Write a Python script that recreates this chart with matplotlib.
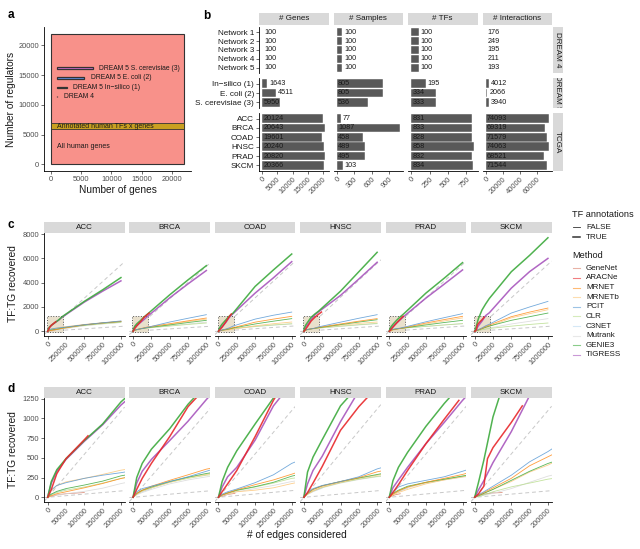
import matplotlib
matplotlib.use('Agg')
import matplotlib.pyplot as plt
from matplotlib.patches import Rectangle
import numpy as np

plt.rcParams['font.family'] = ['Liberation Sans', 'DejaVu Sans']

# ---------------- data ----------------
# panel a
ALL_GENES = 22000
TF_BAND = (5900, 7000)
DREAM_NAMES = ['DREAM 5 S. cerevisiae (3)', 'DREAM 5 E. coli (2)', 'DREAM 5 In\u2212silico (1)', 'DREAM 4']
DREAM_GENES = [5950, 4511, 1643, 100]
DREAM_TFS = [333, 334, 195, 100]
DREAM_FILL = ['#DA70D6', '#6495ED', '#444444', '#333333']

# panel b
ROW_NAMES = ['DREAM 4', 'DREAM 5', 'TCGA']
ROW_LABELS = [['Network 1', 'Network 2', 'Network 3', 'Network 4', 'Network 5'],
              ['In\u2212silico (1)', 'E. coli (2)', 'S. cerevisiae (3)'],
              ['ACC', 'BRCA', 'COAD', 'HNSC', 'PRAD', 'SKCM']]
COL_NAMES = ['# Genes', '# Samples', '# TFs', '# Interactions']
n_genes = [[100, 100, 100, 100, 100], [1643, 4511, 5950],
           [20124, 20643, 19601, 20240, 20820, 20366]]
n_samples = [[100, 100, 100, 100, 100], [805, 805, 536],
             [77, 1087, 458, 489, 495, 103]]
n_tfs = [[100, 100, 100, 100, 100], [195, 334, 333],
         [831, 833, 828, 858, 832, 834]]
n_inter = [[176, 249, 195, 211, 193], [4012, 2066, 3940],
           [74093, 69319, 71579, 74063, 68521, 71544]]
COL_TICKS = [[0, 5000, 10000, 15000, 20000], [0, 300, 600, 900],
             [0, 250, 500, 750], [0, 20000, 40000, 60000]]

# panels c / d
CANCERS = ['ACC', 'BRCA', 'COAD', 'HNSC', 'PRAD', 'SKCM']
X_EDGES = [0, 10000, 25000, 50000, 100000, 150000, 200000, 500000, 750000, 1000000]
RANDOM_TF = [5450, 5350, 5500, 5600, 5500, 5500]     # expected per 1M edges
RANDOM_ALL = [400, 390, 420, 410, 420, 400]

genie3_true = {
    'ACC':  [0, 200, 350, 490, 720, 930, 1210, 2460, 3410, 4420],
    'BRCA': [0, 250, 430, 610, 870, 1180, 1430, 3000, 4230, 5400],
    'COAD': [0, 200, 380, 590, 930, 1260, 1500, 3690, 5050, 6360],
    'HNSC': [0, 320, 510, 730, 1160, 1420, 1650, 3300, 4900, 6500],
    'PRAD': [0, 210, 380, 570, 900, 1190, 1450, 3140, 4370, 5650],
    'SKCM': [0, 180, 470, 1020, 1750, 2250, 2700, 4900, 6250, 7700]}
tigress_true = {
    'ACC':  [0, 180, 330, 480, 710, 920, 1170, 2400, 3300, 4150],
    'BRCA': [0, 180, 330, 480, 720, 965, 1240, 2750, 3900, 5000],
    'COAD': [0, 130, 260, 380, 725, 1160, 1450, 3140, 4400, 5730],
    'HNSC': [0, 170, 340, 520, 960, 1350, 1600, 2950, 4300, 5680],
    'PRAD': [0, 120, 220, 380, 680, 950, 1230, 2730, 3880, 5050],
    'SKCM': [0, 90, 210, 440, 833, 1290, 1520, 3550, 4910, 6000]}
aracne_x = {
    'ACC':  [0, 10000, 25000, 50000, 100000, 110000],
    'BRCA': [0, 10000, 25000, 50000, 100000, 150000, 220000],
    'COAD': [0, 10000, 25000, 50000, 100000, 150000, 175000],
    'HNSC': [0, 10000, 25000, 50000, 100000, 150000, 200000, 240000],
    'PRAD': [0, 10000, 25000, 50000, 100000, 150000, 190000],
    'SKCM': [0, 10000, 25000, 35000, 50000, 100000, 130000]}
aracne_y = {
    'ACC':  [0, 100, 300, 490, 730, 780],
    'BRCA': [0, 100, 240, 430, 770, 1150, 1500],
    'COAD': [0, 70, 170, 340, 770, 1230, 1420],
    'HNSC': [0, 60, 180, 390, 850, 1150, 1400, 1580],
    'PRAD': [0, 60, 160, 340, 680, 990, 1230],
    'SKCM': [0, 40, 140, 490, 630, 950, 1160]}
pcit = {
    'ACC':  [0, 95, 150, 185, 240, 280, 312, 540, 700, 850],
    'BRCA': [0, 70, 110, 140, 200, 260, 330, 760, 1070, 1365],
    'COAD': [0, 40, 70, 105, 185, 285, 430, 1000, 1320, 1580],
    'HNSC': [0, 60, 110, 150, 200, 260, 360, 750, 1070, 1365],
    'PRAD': [0, 70, 130, 170, 215, 260, 330, 780, 1120, 1450],
    'SKCM': [0, 30, 70, 140, 280, 450, 580, 1500, 2000, 2460]}
mrnet = {
    'ACC':  [0, 20, 45, 70, 120, 175, 238, 530, 680, 820],
    'BRCA': [0, 50, 90, 140, 215, 285, 357, 620, 860, 1090],
    'COAD': [0, 30, 55, 95, 160, 220, 293, 750, 1000, 1230],
    'HNSC': [0, 50, 100, 145, 200, 250, 323, 600, 830, 1040],
    'PRAD': [0, 40, 80, 130, 190, 240, 290, 680, 960, 1230],
    'SKCM': [0, 25, 60, 120, 240, 400, 514, 1200, 1580, 1910]}
mrnetb = {
    'ACC':  [0, 80, 150, 195, 240, 290, 344, 560, 700, 800],
    'BRCA': [0, 40, 80, 120, 190, 250, 290, 560, 800, 1000],
    'COAD': [0, 25, 45, 70, 90, 120, 174, 450, 620, 760],
    'HNSC': [0, 40, 80, 130, 190, 240, 280, 500, 650, 760],
    'PRAD': [0, 30, 60, 100, 170, 220, 259, 600, 850, 1100],
    'SKCM': [0, 20, 50, 100, 200, 320, 408, 1100, 1450, 1775]}
genie3_false = {
    'ACC':  [0, 40, 75, 110, 155, 205, 272, 520, 680, 800],
    'BRCA': [0, 50, 90, 130, 200, 255, 302, 520, 720, 900],
    'COAD': [0, 30, 55, 90, 135, 190, 268, 600, 830, 1040],
    'HNSC': [0, 50, 100, 145, 200, 245, 289, 550, 760, 950],
    'PRAD': [0, 50, 90, 140, 190, 230, 270, 520, 720, 900],
    'SKCM': [0, 20, 50, 100, 215, 330, 429, 900, 1200, 1500]}
clr = {
    'ACC':  [0, 30, 60, 90, 130, 180, 240, 480, 620, 740],
    'BRCA': [0, 40, 80, 120, 190, 240, 280, 430, 560, 680],
    'COAD': [0, 25, 50, 85, 130, 180, 240, 400, 520, 620],
    'HNSC': [0, 40, 80, 125, 185, 230, 265, 420, 540, 650],
    'PRAD': [0, 40, 80, 130, 185, 225, 265, 400, 520, 630],
    'SKCM': [0, 10, 30, 70, 132, 180, 230, 420, 560, 680]}
mutrank = {
    'ACC':  [0, 15, 30, 45, 75, 115, 174, 450, 600, 720],
    'BRCA': [0, 30, 60, 100, 170, 220, 259, 450, 600, 750],
    'COAD': [0, 20, 40, 70, 110, 150, 200, 380, 500, 600],
    'HNSC': [0, 35, 70, 120, 180, 225, 260, 400, 520, 620],
    'PRAD': [0, 35, 70, 120, 180, 220, 255, 400, 520, 620],
    'SKCM': [0, 10, 25, 50, 110, 190, 268, 600, 820, 1040]}
C3NET_X = [0, 10000, 25000, 50000]
c3net = {'ACC': [0, 40, 70, 100], 'BRCA': [0, 40, 70, 110], 'COAD': [0, 30, 55, 85],
         'HNSC': [0, 40, 75, 115], 'PRAD': [0, 40, 75, 115], 'SKCM': [0, 15, 35, 60]}
genenet_x = {'ACC': [0, 25000, 50000, 100000], 'COAD': [0, 25000, 45000],
             'PRAD': [0, 15000, 30000], 'SKCM': [0, 25000, 50000, 75000]}
genenet_y = {'ACC': [0, 30, 45, 60], 'COAD': [0, 35, 50],
             'PRAD': [0, 30, 45], 'SKCM': [0, 40, 55, 60]}

METHODS = ['GeneNet', 'ARACNe', 'MRNET', 'MRNETb', 'PCIT', 'CLR', 'C3NET', 'Mutrank', 'GENIE3', 'TIGRESS']
COLORS = {'GeneNet': '#D9806B', 'ARACNe': '#E8282B', 'MRNET': '#FF8C1A', 'MRNETb': '#FDC77A',
          'PCIT': '#5B9BD5', 'CLR': '#B9DE8E', 'C3NET': '#B9D9F0', 'Mutrank': '#D9D9D9',
          'GENIE3': '#3DAA3D', 'TIGRESS': '#A856BD'}

# ---------------- layout helpers ----------------
W, H = 640, 549
fig = plt.figure(figsize=(W / 100, H / 100), dpi=100)
TXT = '#1A1A1A'
TICK = '#4D4D4D'
TICK_FS = 5.4
TITLE_FS = 7.3


def add_ax(l, t, r, b):
    return fig.add_axes([l / W, 1 - b / H, (r - l) / W, (b - t) / H])


def style(ax, left=True, bottom=True):
    ax.set_facecolor('none')
    for s in ['top', 'right']:
        ax.spines[s].set_visible(False)
    ax.spines['left'].set_visible(left)
    ax.spines['bottom'].set_visible(bottom)
    for s in ['left', 'bottom']:
        ax.spines[s].set_linewidth(0.6)
    ax.tick_params(length=2, width=0.5, color='#333333', labelsize=TICK_FS,
                   labelcolor=TICK, pad=1.5)


def strip(l, t, r, b, text, rot=0):
    s = add_ax(l, t, r, b)
    s.set_facecolor('#D9D9D9')
    s.set_xticks([])
    s.set_yticks([])
    for sp in s.spines.values():
        sp.set_visible(False)
    s.text(0.5, 0.5, text, transform=s.transAxes, ha='center', va='center',
           fontsize=5.8, color=TXT, rotation=rot, clip_on=True)


def rot_xticks(ax, ticks):
    ax.set_xticks(ticks, labels=[str(t) for t in ticks], rotation=45,
                  ha='right', va='top', rotation_mode='anchor')


# ---------------- panel a ----------------
ax = add_ax(44, 27, 191, 171)
style(ax)
ax.add_patch(Rectangle((0, 0), ALL_GENES, ALL_GENES, fc='#F8918A', ec='#333333', lw=0.8))
ax.add_patch(Rectangle((0, TF_BAND[0]), ALL_GENES, TF_BAND[1] - TF_BAND[0],
                       fc='#C9A020', ec='#333333', lw=0.6))
ax.text(1000, sum(TF_BAND) / 2, 'Annotated human TFs x genes', fontsize=5.0,
        va='center', color=TXT)
ax.text(1000, 3000, 'All human genes', fontsize=5.0, va='center', color=TXT)
for i, (name, g, t) in enumerate(zip(DREAM_NAMES, DREAM_GENES, DREAM_TFS)):
    y = 16150 - i * 1580
    ax.add_patch(Rectangle((1000, y - t / 2), g, t, fc=DREAM_FILL[i], ec='#333333', lw=0.9))
    ax.text(1000 + g + 1050, y, name, va='center', fontsize=4.9, color=TXT)
ax.set_xlim(-1100, 23100)
ax.set_ylim(-1100, 23100)
ax.set_xticks([0, 5000, 10000, 15000, 20000])
ax.set_yticks([0, 5000, 10000, 15000, 20000])
ax.set_xlabel('Number of genes', fontsize=TITLE_FS, color=TXT, labelpad=1.5)
ax.set_ylabel('Number of regulators', fontsize=TITLE_FS, color=TXT, labelpad=2)

# ---------------- panel b ----------------
COL_LEFT = [259, 333.5, 408, 482.5]
COL_W = 69.5
ROW_TB = [(27, 73), (78, 108), (113, 171)]
columns = [n_genes, n_samples, n_tfs, n_inter]

for ci, col in enumerate(columns):
    m = max(max(v) for v in col)
    l = COL_LEFT[ci]
    strip(l, 13, l + COL_W, 25, COL_NAMES[ci])
    for ri, vals in enumerate(col):
        t, b = ROW_TB[ri]
        ax = add_ax(l, t, l + COL_W, b)
        style(ax, left=(ci == 0), bottom=(ri == 2))
        n = len(vals)
        pos = np.arange(n)
        ax.barh(pos, vals, height=0.9, color='#595959', ec='white', lw=0.3)
        ax.set_xlim(-0.05 * m, 1.05 * m)
        ax.set_ylim(n - 0.4, -0.6)
        for p, v in zip(pos, vals):
            tx = 0.02 * m if v > 0.25 * m else v + 0.03 * m
            ax.text(tx, p, str(v), va='center', ha='left', fontsize=5.2, color=TXT)
        if ci == 0:
            ax.set_yticks(pos, labels=ROW_LABELS[ri])
            ax.tick_params(axis='y', labelsize=5.9, labelcolor=TXT)
        else:
            ax.set_yticks([])
        if ri == 2:
            rot_xticks(ax, COL_TICKS[ci])
        else:
            ax.set_xticks([])
for ri, (t, b) in enumerate(ROW_TB):
    strip(552.5, t, 563, b, ROW_NAMES[ri], rot=-90)

# ---------------- panels c and d ----------------
PANEL_W = 80.6
PANEL_STEP = 85.4

false_series = [('Mutrank', mutrank), ('CLR', clr), ('MRNETb', mrnetb),
                ('GENIE3', genie3_false), ('MRNET', mrnet), ('PCIT', pcit)]


def draw_curves(ax, k, cancer):
    ax.axline((0, 0), slope=RANDOM_TF[k] / 1e6, color='#C8C8C8', ls=(0, (4, 3)), lw=0.7, zorder=1)
    ax.axline((0, 0), slope=RANDOM_ALL[k] / 1e6, color='#C8C8C8', ls=(0, (4, 3)), lw=0.7, zorder=1)
    ax.plot(C3NET_X, c3net[cancer], color=COLORS['C3NET'], lw=0.6, alpha=0.85, zorder=2)
    if cancer in genenet_x:
        ax.plot(genenet_x[cancer], genenet_y[cancer], color=COLORS['GeneNet'], lw=0.6, alpha=0.85, zorder=2)
    for name, series in false_series:
        ax.plot(X_EDGES, series[cancer], color=COLORS[name], lw=0.6, alpha=0.85, zorder=2)
    ax.plot(X_EDGES, tigress_true[cancer], color=COLORS['TIGRESS'], lw=1.1, alpha=0.9, zorder=3)
    ax.plot(X_EDGES, genie3_true[cancer], color=COLORS['GENIE3'], lw=1.1, alpha=0.9, zorder=3)
    ax.plot(aracne_x[cancer], aracne_y[cancer], color=COLORS['ARACNe'], lw=1.1, alpha=0.9, zorder=3)


C_TICKS = [0, 250000, 500000, 750000, 1000000]
D_TICKS = [0, 50000, 100000, 150000, 200000]

for k, cancer in enumerate(CANCERS):
    L = 44 + k * PANEL_STEP
    # c
    strip(L, 222, L + PANEL_W, 233, cancer)
    ax = add_ax(L, 233, L + PANEL_W, 336)
    style(ax, left=(k == 0))
    ax.add_patch(Rectangle((-10000, -60), 220000, 1320, fc='#E9E0CC', ec='#555555',
                           ls=':', lw=0.7, zorder=1.5))
    draw_curves(ax, k, cancer)
    ax.set_xlim(-50000, 1050000)
    ax.set_ylim(-390, 8090)
    rot_xticks(ax, C_TICKS)
    if k == 0:
        ax.set_yticks([0, 2000, 4000, 6000, 8000])
    else:
        ax.set_yticks([])
    # d
    strip(L, 387, L + PANEL_W, 398, cancer)
    ax = add_ax(L, 398, L + PANEL_W, 502)
    style(ax, left=(k == 0))
    draw_curves(ax, k, cancer)
    ax.set_xlim(-10000, 210000)
    ax.set_ylim(-60, 1260)
    rot_xticks(ax, D_TICKS)
    if k == 0:
        ax.set_yticks([0, 250, 500, 750, 1000, 1250])
    else:
        ax.set_yticks([])

fig.text(13 / W, 1 - 284 / H, 'TF:TG recovered', rotation=90, ha='center', va='center',
         fontsize=TITLE_FS, color=TXT)
fig.text(13 / W, 1 - 450 / H, 'TF:TG recovered', rotation=90, ha='center', va='center',
         fontsize=TITLE_FS, color=TXT)
fig.text(297 / W, 1 - 535 / H, '# of edges considered', ha='center', va='center',
         fontsize=TITLE_FS, color=TXT)

# legend
leg = add_ax(563, 200, 640, 365)
leg.axis('off')
leg.set_xlim(563, 640)
leg.set_ylim(365, 200)
leg.text(572, 214, 'TF annotations', fontsize=6.6, va='center', color=TXT)
for y, lab, lw in [(227, 'FALSE', 0.6), (237, 'TRUE', 1.1)]:
    leg.plot([573, 580], [y, y], color='#333333', lw=lw)
    leg.text(586, y, lab, fontsize=5.8, va='center', color=TXT)
leg.text(572, 255, 'Method', fontsize=6.6, va='center', color=TXT)
for i, m in enumerate(METHODS):
    y = 268.3 + i * 9.63
    leg.plot([573, 580], [y, y], color=COLORS[m], lw=0.8, alpha=0.6)
    leg.text(586, y, m, fontsize=5.8, va='center', color=TXT)

# panel letters
for lab, x, y in [('a', 8, 15), ('b', 203, 16), ('c', 8, 225), ('d', 8, 389)]:
    fig.text(x / W, 1 - y / H, lab, fontsize=8.5, fontweight='bold', va='center', color='black')

fig.savefig('out.png', dpi=100)
